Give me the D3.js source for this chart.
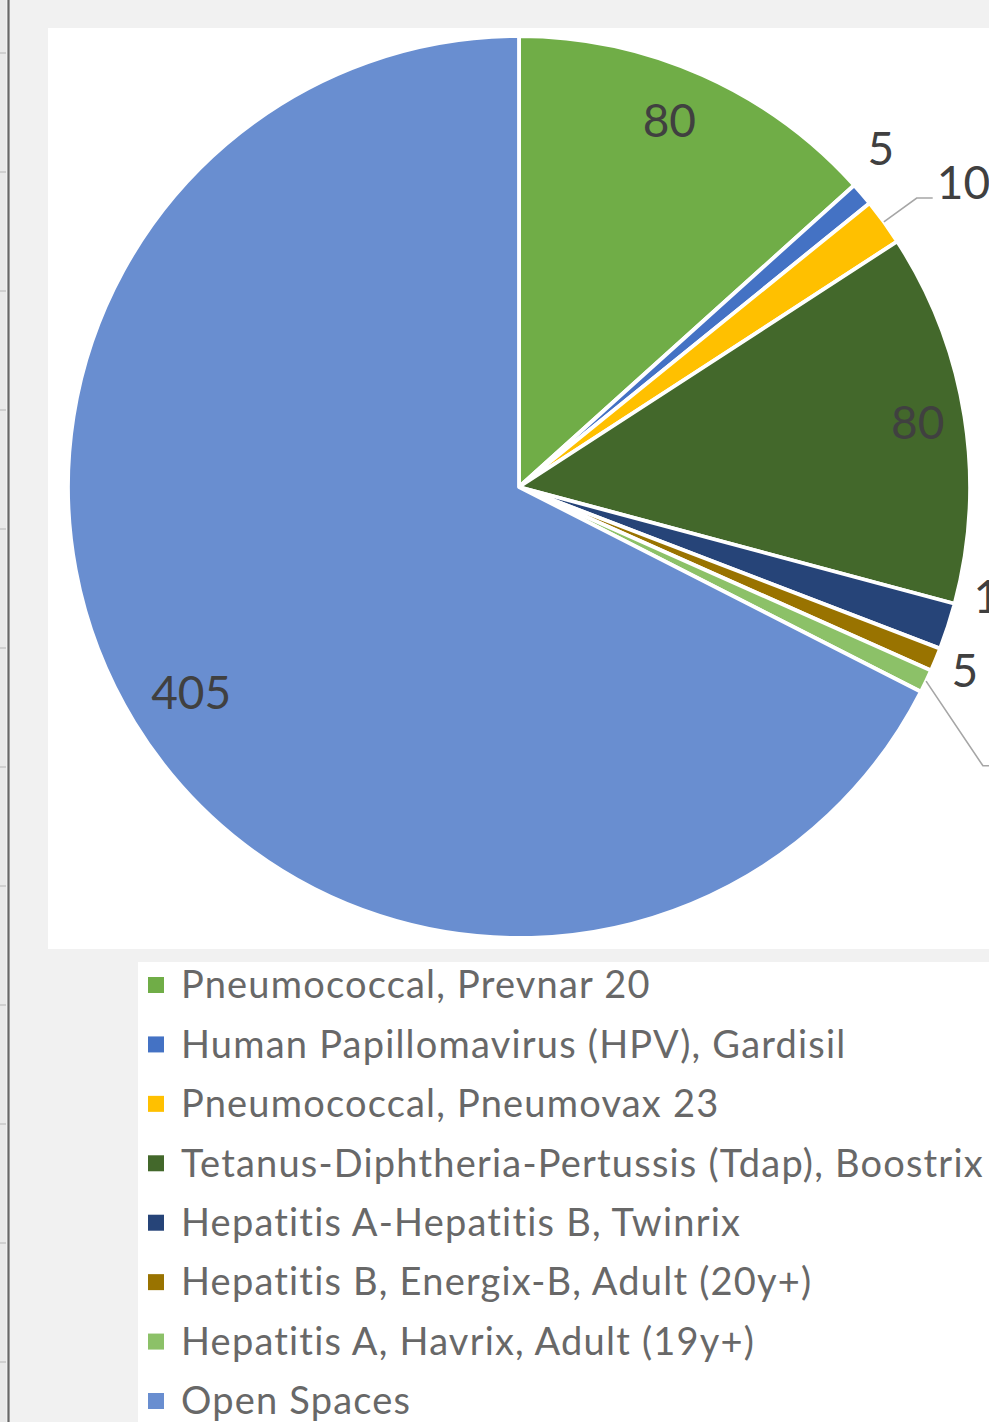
<!DOCTYPE html>
<html><head><meta charset="utf-8">
<script src="https://cdn.jsdelivr.net/npm/d3@7"></script>
<style>html,body{margin:0;padding:0;background:#f1f1f1;overflow:hidden}</style>
</head><body>
<svg id="c" width="989" height="1422"></svg>
<script>
const categories = [
  "Pneumococcal, Prevnar 20",
  "Human Papillomavirus (HPV), Gardisil",
  "Pneumococcal, Pneumovax 23",
  "Tetanus-Diphtheria-Pertussis (Tdap), Boostrix",
  "Hepatitis A-Hepatitis B, Twinrix",
  "Hepatitis B, Energix-B, Adult (20y+)",
  "Hepatitis A, Havrix, Adult (19y+)",
  "Open Spaces"
];
const values = [80, 5, 10, 80, 10, 5, 5, 405];
const colors = ["#70AD47", "#4472C4", "#FFC000", "#43682B", "#264478", "#997300", "#8CC168", "#698ED0"];

const W = 989, H = 1422;
const svg = d3.select("#c");
const FONT = "Lato, 'Open Sans', sans-serif";

// sheet background and frame
svg.append("rect").attr("width", W).attr("height", H).attr("fill", "#f1f1f1");
svg.append("rect").attr("x", 0).attr("y", 0).attr("width", 6).attr("height", H).attr("fill", "#e9e9e9");
svg.append("line").attr("x1", 8.5).attr("x2", 8.5).attr("y1", 0).attr("y2", H)
  .attr("stroke", "#686868").attr("stroke-width", 2.2);
const rowLines = d3.range(12).map(i => 53 + i * 119);
svg.selectAll("line.row").data(rowLines).join("line").attr("class", "row")
  .attr("x1", 0).attr("x2", 6).attr("y1", d => d).attr("y2", d => d)
  .attr("stroke", "#cfcfcf").attr("stroke-width", 2);

// chart area & legend area
svg.append("rect").attr("x", 48).attr("y", 28).attr("width", 960).attr("height", 921).attr("fill", "#fff");
svg.append("rect").attr("x", 138).attr("y", 962).attr("width", 900).attr("height", 500).attr("fill", "#fff");

// pie
const cx = 519, cy = 487, R = 451;
const arcs = d3.pie().sort(null).value(d => d)(values);
const arc = d3.arc().innerRadius(0).outerRadius(R);
const g = svg.append("g").attr("transform", `translate(${cx},${cy})`);
g.selectAll("path.slice").data(arcs).join("path").attr("class", "slice")
  .attr("d", arc).attr("fill", (d, i) => colors[i])
  .attr("stroke", "#fff").attr("stroke-width", 3.8).attr("stroke-linejoin", "round");

// data label placement rules
const deg = Math.PI / 180;
const place = [
  { mode: "in", r: 0.875, da: -1.6 },
  { mode: "out", r: 1.097, da: -2.5 },
  { mode: "leader", r: 1.09, da: 0, run: 16, gap: 4, dy: -15 },
  { mode: "in", r: 0.895, da: 0 },
  { mode: "out", r: 1.095, da: -5 },
  { mode: "out", r: 1.07, da: 0 },
  { mode: "leader", r: 1.2, da: 5.5, run: 40, gap: 5, dy: 0 },
  { mode: "in", r: 0.86, da: -0.8 }
];
const pt = (a, r) => [Math.sin(a) * r, -Math.cos(a) * r];
const lab = g.append("g").attr("font-family", FONT).attr("font-size", 46).attr("fill", "#404040");
arcs.forEach((d, i) => {
  const p = place[i];
  const mid = (d.startAngle + d.endAngle) / 2;
  if (p.mode === "leader") {
    const a = mid + p.da * deg;
    const s = pt(mid, R);
    const e = pt(a, R * p.r);
    const h = [e[0] + p.run, e[1]];
    g.append("polyline").attr("points", [s, e, h].map(q => q.join(",")).join(" "))
      .attr("fill", "none").attr("stroke", "#a6a6a6").attr("stroke-width", 1.6);
    lab.append("text").attr("x", h[0] + p.gap).attr("y", h[1] + p.dy)
      .attr("dy", "0.35em").attr("text-anchor", "start").text(values[i]);
  } else {
    const c = pt(mid + p.da * deg, R * p.r);
    lab.append("text").attr("x", c[0]).attr("y", c[1]).attr("dy", "0.33em")
      .attr("text-anchor", "middle").text(values[i]);
  }
});

// legend
const ly = d3.scalePoint().domain(categories).range([985, 1401]);
const lg = svg.append("g").attr("font-family", FONT).attr("font-size", 38)
  .attr("letter-spacing", "1.2px").attr("fill", "#686868");
categories.forEach((c, i) => {
  lg.append("rect").attr("x", 148).attr("y", ly(c) - 8).attr("width", 16).attr("height", 16).attr("fill", colors[i]);
  lg.append("text").attr("x", 181).attr("y", ly(c)).attr("dy", "0.35em").text(c);
});
</script>
</body></html>
